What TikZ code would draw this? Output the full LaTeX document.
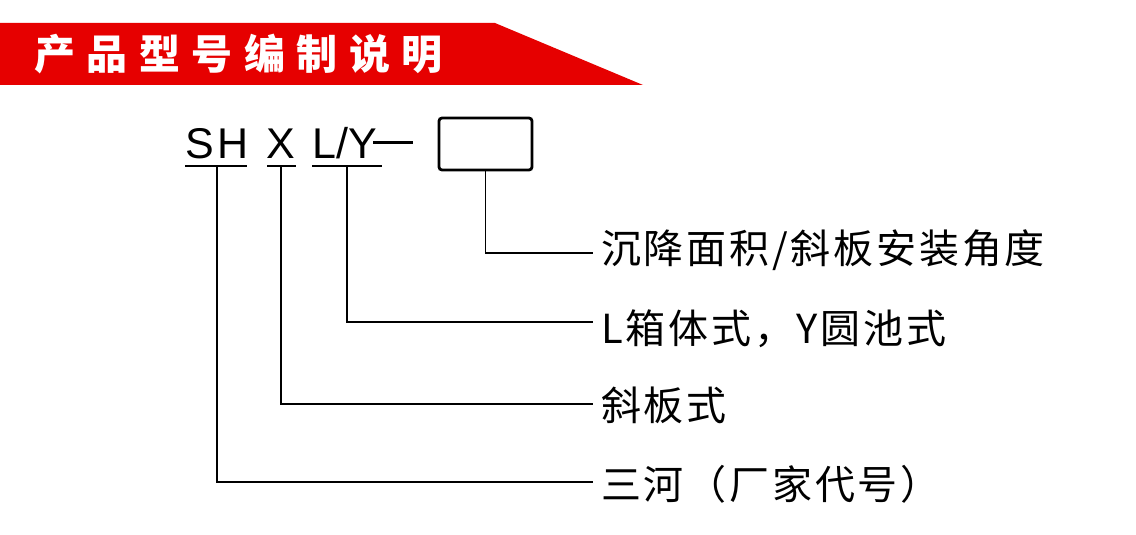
\documentclass[tikz,border=0pt]{standalone}
\usepackage{fontspec}
\setmainfont{Liberation Sans}
\newfontfamily\codefont[LetterSpace=8]{Liberation Sans}
\newfontfamily\cjk[LetterSpace=7]{Noto Sans CJK SC}
\newfontfamily\cjkb[LetterSpace=28]{Noto Sans CJK SC}
\definecolor{bannerred}{RGB}{230,0,0}
\begin{document}
\begin{tikzpicture}[x=1pt,y=-1pt,
  code/.style={inner sep=0pt,font=\codefont\fontsize{43}{43}\selectfont},
  codetight/.style={inner sep=0pt,font=\fontsize{43}{43}\selectfont},
  lab/.style={anchor=base west,inner sep=0pt,font=\cjk\fontsize{40}{40}\selectfont},
  conn/.style={line width=1.6pt},
  uline/.style={line width=2pt}]
\useasboundingbox (0,0) rectangle (1136,535);
% banner
\fill[bannerred] (0,23) -- (495,23) -- (643,85) -- (0,85) -- cycle;
\node[anchor=west,inner sep=0pt,text=white,font=\cjkb\bfseries\fontsize{41}{41}\selectfont] (title) at (34,54) {产品型号编制说明};
% code
\node[code,anchor=base] (sh) at (217,158) {SH};
\node[code,anchor=base] (x) at (281,158) {X};
\node[codetight,anchor=base west] (ly) at (312,158) {L/Y};
\coordinate (d1) at (373,142);
\coordinate (d2) at (413,142);
\draw[line width=3pt] (d1) -- (d2);
\node[draw,line width=2.8pt,rounded corners=3pt,minimum width=93pt,minimum height=52pt,inner sep=0pt] (box) at (485.5,144) {};
% underlines
\coordinate (sha) at (185,166); \coordinate (shb) at (247,166);
\coordinate (xa) at (267,166); \coordinate (xb) at (296,166);
\coordinate (lya) at (312,166); \coordinate (lyb) at (382,166);
\draw[uline] (sha) -- (shb);
\draw[uline] (xa) -- (xb);
\draw[uline] (lya) -- (lyb);
\coordinate (shm) at (217,166);
\coordinate (xm) at (281,166);
\coordinate (lym) at (347,166);
% labels
\node[lab] (l1) at (601,263) {沉降面积/斜板安装角度};
\node[lab] (l2) at (601,343) {L箱体式，Y圆池式};
\node[lab] (l3) at (601,420) {斜板式};
\node[lab] (l4) at (601,499) {三河（厂家代号）};
\coordinate (e1) at (593,253);
\coordinate (e2) at (593,322);
\coordinate (e3) at (593,404);
\coordinate (e4) at (593,482);
\draw[conn] (box.south) |- (e1);
\draw[conn] (lym) |- (e2);
\draw[conn] (xm) |- (e3);
\draw[conn] (shm) |- (e4);
\end{tikzpicture}
\end{document}
